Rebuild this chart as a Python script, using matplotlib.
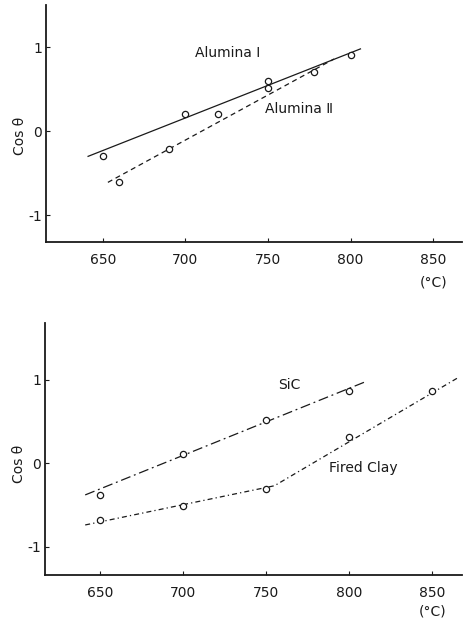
import matplotlib
matplotlib.use("Agg")
import matplotlib.pyplot as plt

plt.rcParams['font.family'] = ['DejaVu Sans']
plt.rcParams['axes.unicode_minus'] = False

# 上图: Alumina I / II
al1_x = [650, 700, 750, 800]
al1_y = [-0.29, 0.20, 0.60, 0.91]
al1_line_x = [641, 806]
al1_line_y = [-0.30, 0.98]

al2_x = [660, 690, 720, 750, 778]
al2_y = [-0.60, -0.21, 0.20, 0.51, 0.71]
al2_line_x = [653, 790]
al2_line_y = [-0.61, 0.86]

# 下图: SiC / Fired Clay
sic_x = [650, 700, 750, 800]
sic_y = [-0.38, 0.11, 0.52, 0.87]
sic_line_x = [641, 809]
sic_line_y = [-0.38, 0.97]

clay_x = [650, 700, 750, 800, 850]
clay_y = [-0.68, -0.51, -0.31, 0.32, 0.87]
clay_line_x = [641, 755, 866]
clay_line_y = [-0.74, -0.27, 1.03]

xticks = [650, 700, 750, 800, 850]
yticks = [-1, 0, 1]
ytick_labels = ['-1', '0', '1']

ink = '#1a1a1a'

fig = plt.figure(figsize=(4.66, 6.23), dpi=100)
ax1 = fig.add_axes([0.0987, 0.6116, 0.893, 0.380])
ax2 = fig.add_axes([0.0966, 0.077, 0.895, 0.4045])


def style(ax, xlim, ylim, unit_off):
    ax.set_xlim(*xlim)
    ax.set_ylim(*ylim)
    for s in ['top', 'right']:
        ax.spines[s].set_visible(False)
    for s in ['left', 'bottom']:
        ax.spines[s].set_linewidth(1.3)
        ax.spines[s].set_color(ink)
    ax.set_xticks(xticks)
    ax.set_yticks(yticks)
    ax.set_yticklabels(ytick_labels)
    ax.tick_params(direction='in', length=3, width=0.8, labelsize=10,
                   colors=ink, pad=8)
    ax.tick_params(axis='y', pad=3)
    ax.set_ylabel('Cos θ', fontsize=10, color=ink)
    # 单位 (°C) 放在 850 下面
    ax.annotate('(°C)', xy=(850, 0), xycoords=('data', 'axes fraction'),
                xytext=(0, -unit_off), textcoords='offset points',
                fontsize=10, ha='center', va='center', color=ink)


style(ax1, (615.5, 867.6), (-1.32, 1.5), 29.5)
ax1.yaxis.set_label_coords(-0.045, 0.45)
ax1.plot(al1_line_x, al1_line_y, '-', color=ink, lw=0.9)
ax1.plot(al2_line_x, al2_line_y, '--', color=ink, lw=0.9, dashes=(4, 3))
ax1.plot(al1_x, al1_y, 'o', ms=4.5, mfc='white', mec=ink, mew=0.9)
ax1.plot(al2_x, al2_y, 'o', ms=4.5, mfc='white', mec=ink, mew=0.9)
ax1.text(706, 0.93, 'Alumina Ⅰ', fontsize=10, va='center', color=ink)
ax1.text(748, 0.26, 'Alumina Ⅱ', fontsize=10, va='center', color=ink)

style(ax2, (616.8, 868), (-1.34, 1.68), 26.5)
ax2.yaxis.set_label_coords(-0.045, 0.44)
ax2.plot(sic_line_x, sic_line_y, color=ink, lw=0.9, ls=(0, (8, 3, 1.5, 3)))
ax2.plot(clay_line_x, clay_line_y, color=ink, lw=0.9, ls=(0, (4, 2.5, 1, 2.5)))
ax2.plot(sic_x, sic_y, 'o', ms=4.5, mfc='white', mec=ink, mew=0.9)
ax2.plot(clay_x, clay_y, 'o', ms=4.5, mfc='white', mec=ink, mew=0.9)
ax2.text(757.5, 0.94, 'SiC', fontsize=10, va='center', color=ink)
ax2.text(788, -0.06, 'Fired Clay', fontsize=10, va='center', color=ink)

fig.savefig('out.png', dpi=100)
